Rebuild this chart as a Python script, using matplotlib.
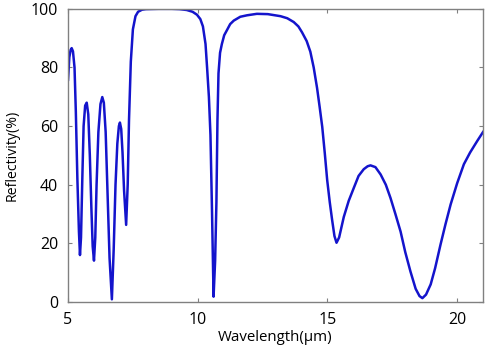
import matplotlib
matplotlib.use("Agg")
import matplotlib.pyplot as plt

wavelength = [5.0, 5.05, 5.1, 5.14, 5.19, 5.25, 5.3, 5.36, 5.42, 5.46, 5.5, 5.55, 5.6, 5.66, 5.72, 5.78,
              5.84, 5.9, 5.95, 6.0, 6.05, 6.1, 6.17, 6.25, 6.32, 6.38, 6.45, 6.52, 6.6, 6.69,
              6.76, 6.83, 6.9, 6.96, 7.0, 7.05, 7.1, 7.16, 7.24, 7.3, 7.35, 7.42, 7.5, 7.6, 7.7, 7.85,
              8.0, 8.5, 9.0, 9.3, 9.58, 9.8, 9.97, 10.1, 10.2, 10.3, 10.36, 10.43, 10.49, 10.55,
              10.61, 10.67, 10.72, 10.76, 10.8, 10.86, 10.93, 11.02, 11.13, 11.25, 11.39, 11.64,
              11.9, 12.28, 12.7, 13.19, 13.45, 13.7, 13.88, 14.02, 14.2, 14.34, 14.47, 14.6,
              14.7, 14.8, 14.9, 14.99, 15.09, 15.18, 15.27, 15.35, 15.45, 15.63, 15.82, 16.02,
              16.2, 16.4, 16.55, 16.66, 16.85, 17.05, 17.25, 17.43, 17.62, 17.82, 18.0, 18.2,
              18.4, 18.55, 18.66, 18.8, 18.98, 19.15, 19.36, 19.55, 19.75, 20.0, 20.26, 20.5,
              20.78, 21.0]
reflectivity = [75.8, 83.5, 86.0, 86.6, 85.5, 80.0, 65.0, 42.0, 24.0, 16.0, 22.0, 42.0, 60.0, 67.0, 68.0, 64.0,
                50.0, 32.0, 19.0, 14.1, 22.0, 40.0, 58.0, 67.5, 69.9, 68.0, 58.0, 38.0, 15.0, 0.9,
                18.0, 40.0, 54.0, 60.0, 61.2, 59.0, 51.0, 38.0, 26.3, 40.0, 62.0, 82.0, 93.0, 97.5, 99.0, 99.7,
                99.9, 100.0, 100.0, 99.9, 99.6, 99.0, 98.0, 96.5, 94.0, 88.0, 80.0, 70.0, 57.0, 31.0,
                1.8, 14.0, 34.0, 62.0, 78.0, 85.0, 88.0, 91.0, 92.8, 94.8, 96.0, 97.3,
                97.8, 98.3, 98.2, 97.5, 96.8, 95.5, 94.0, 92.0, 89.0, 85.4, 80.0, 73.0,
                66.5, 59.7, 50.5, 41.6, 34.0, 28.0, 22.5, 20.2, 22.0, 29.0, 34.5, 39.0,
                43.0, 45.3, 46.3, 46.6, 46.0, 43.5, 40.0, 35.5, 30.0, 24.0, 17.0, 10.4,
                4.5, 2.0, 1.3, 2.5, 6.0, 11.5, 19.6, 26.5, 33.3, 40.5, 47.0, 51.0,
                55.0, 58.0]

xticks = [5, 10, 15, 20]
yticks = [0, 20, 40, 60, 80, 100]

plt.rcParams['font.family'] = ['Open Sans', 'DejaVu Sans']

fig = plt.figure(figsize=(4.86, 3.54), dpi=100)
ax = fig.add_axes([0.140, 0.147, 0.854, 0.828])
ax.plot(wavelength, reflectivity, color='#1414cc', linewidth=1.8, solid_joinstyle='round')
ax.set_xlim(5, 21)
ax.set_ylim(0, 100)
ax.set_xticks(xticks)
ax.set_yticks(yticks)
ax.tick_params(direction='in', top=True, right=True, length=3, width=0.8,
               color='#808080', labelsize=11.5, pad=7)
for s in ax.spines.values():
    s.set_color('#808080')
    s.set_linewidth(1.0)
ax.set_xlabel('Wavelength(µm)', fontsize=10.8, labelpad=2)
ax.set_ylabel('Reflectivity(%)', fontsize=10.2, labelpad=8)
fig.savefig('out.png', dpi=100)
